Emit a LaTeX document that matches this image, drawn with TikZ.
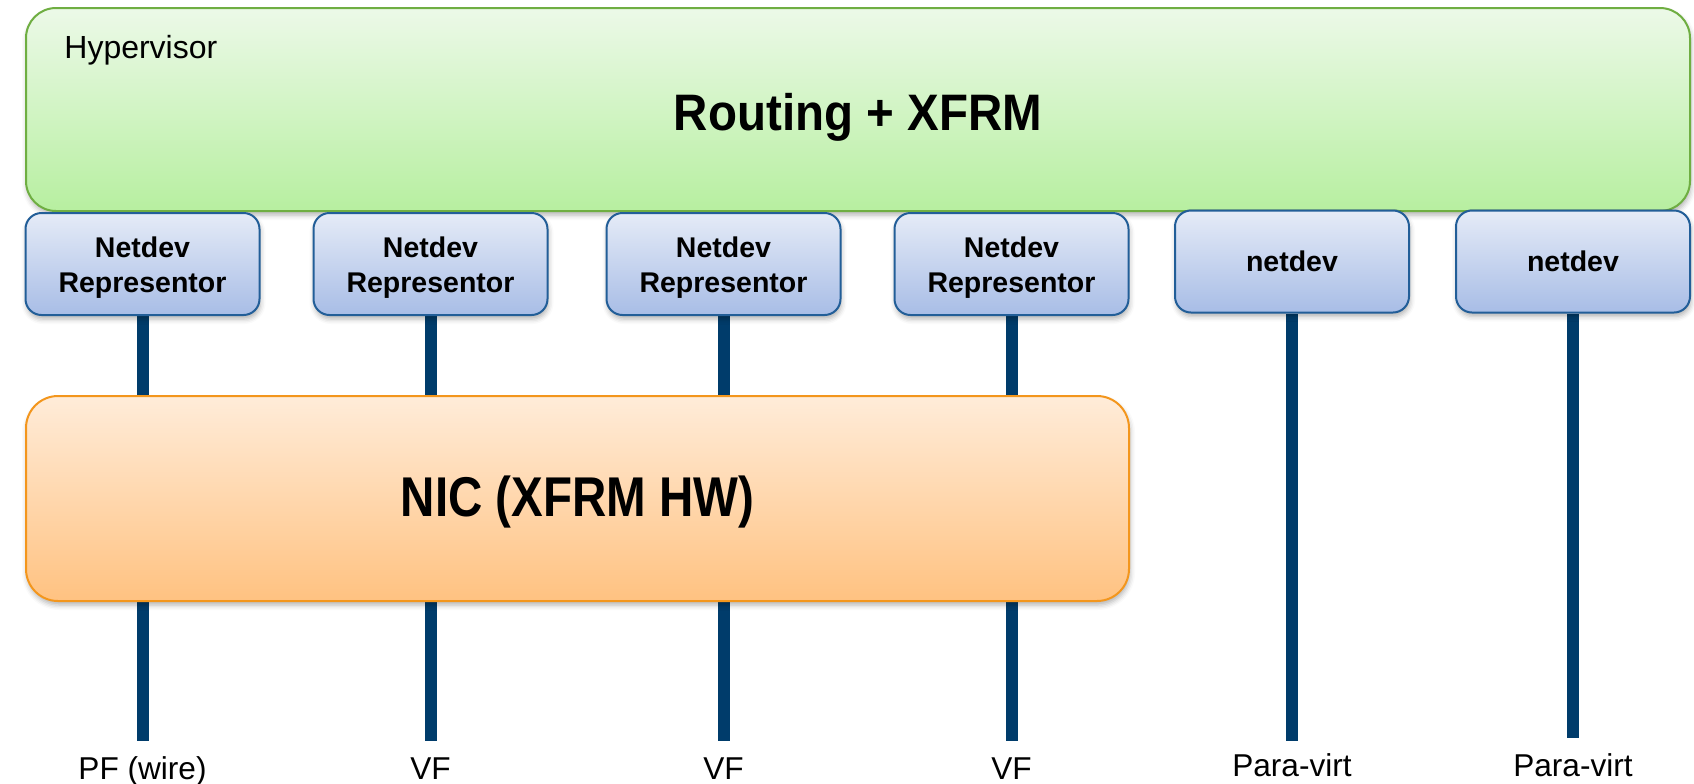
\documentclass[tikz,border=0pt]{standalone}
\usepackage{fontspec}
\setmainfont{Liberation Sans}
\usetikzlibrary{shadows.blur}
\pgfdeclarelayer{background}
\pgfsetlayers{background,main}
\definecolor{hypTop}{HTML}{ECF9E8}
\definecolor{hypBot}{HTML}{B7EFA0}
\definecolor{hypBorder}{HTML}{6FAE42}
\definecolor{ndTop}{HTML}{E5EBF7}
\definecolor{ndBot}{HTML}{A8BDE6}
\definecolor{ndBorder}{HTML}{225E98}
\definecolor{nicTop}{HTML}{FFECD9}
\definecolor{nicBot}{HTML}{FFC281}
\definecolor{nicBorder}{HTML}{F3961D}
\definecolor{wireCol}{HTML}{003C6B}
\begin{document}
\begin{tikzpicture}[x=0.5pt,y=-0.5pt,
  shad/.style={blur shadow={shadow xshift=0.5pt, shadow yshift=-2pt, shadow blur radius=2.5pt, shadow opacity=30}},
  hypbox/.style={shad, draw=hypBorder, line width=1pt, rounded corners=15pt, top color=hypTop, bottom color=hypBot, minimum width=832pt, minimum height=101.5pt, inner sep=0pt},
  nicbox/.style={shad, draw=nicBorder, line width=1pt, rounded corners=16pt, top color=nicTop, bottom color=nicBot, minimum width=551.5pt, minimum height=102.5pt, inner sep=0pt},
  ndbox/.style={shad, draw=ndBorder, line width=1pt, rounded corners=8pt, top color=ndTop, bottom color=ndBot, minimum width=117pt, minimum height=51pt, inner sep=0pt, font=\bfseries\fontsize{14.25}{17.5}\selectfont},
  ndtext/.style={inner sep=0pt, align=center, font=\bfseries\fontsize{14.25}{17.5}\selectfont},
  bigtext/.style={inner sep=0pt, font=\bfseries\fontsize{23.75}{28}\selectfont},
  smalltext/.style={inner sep=0pt, font=\fontsize{16}{19}\selectfont},
  labtext/.style={inner sep=0pt, anchor=base, font=\fontsize{15.8}{18}\selectfont},
  wire/.style={draw=wireCol, line width=6pt}
]
\useasboundingbox (0,0) rectangle (1694,783);

% Hypervisor
\node[hypbox] (hyp) at (858,109.5) {};
\node[smalltext, anchor=base west] (hyplabel) at (64,58) {Hypervisor};
\node[bigtext, anchor=base] (routing) at (858,130) {\scalebox{1}[1.08]{Routing + XFRM}};

% NIC
\node[nicbox] (nic) at (577.5,498.5) {};
\node[bigtext, anchor=base] (nictext) at (577.5,516) {\scalebox{1}[1.18]{NIC (XFRM HW)}};

% netdev boxes
\node[ndbox] (r1) at (142.5,264) {};
\node[ndbox] (r2) at (430.5,264) {};
\node[ndbox] (r3) at (723.5,264) {};
\node[ndbox] (r4) at (1011.5,264) {};
\node[ndbox] (r5) at (1292,261.5) {netdev};
\node[ndbox] (r6) at (1573,261.5) {netdev};
\node[ndtext] (t1) at ([yshift=-2pt]r1.center) {Netdev\\Representor};
\node[ndtext] (t2) at ([yshift=-2pt]r2.center) {Netdev\\Representor};
\node[ndtext] (t3) at ([yshift=-2pt]r3.center) {Netdev\\Representor};
\node[ndtext] (t4) at ([yshift=-2pt]r4.center) {Netdev\\Representor};

% wire ends
\coordinate (e1) at (142.5,741);
\coordinate (e2) at (430.5,741);
\coordinate (e3) at (723.5,741);
\coordinate (e4) at (1011.5,741);
\coordinate (e5) at (1292,741);
\coordinate (e6) at (1573,738);

\begin{pgfonlayer}{background}
\foreach \i in {1,...,6} \draw[wire] (r\i.south) -- (e\i);
\end{pgfonlayer}

% labels
\node[labtext] (l1) at (142.5,779) {PF (wire)};
\node[labtext] (l2) at (430.5,779) {VF};
\node[labtext] (l3) at (723.5,779.5) {VF};
\node[labtext] (l4) at (1011.5,779) {VF};
\node[labtext] (l5) at (1292,776) {Para-virt};
\node[labtext] (l6) at (1573,776) {Para-virt};
\end{tikzpicture}
\end{document}
